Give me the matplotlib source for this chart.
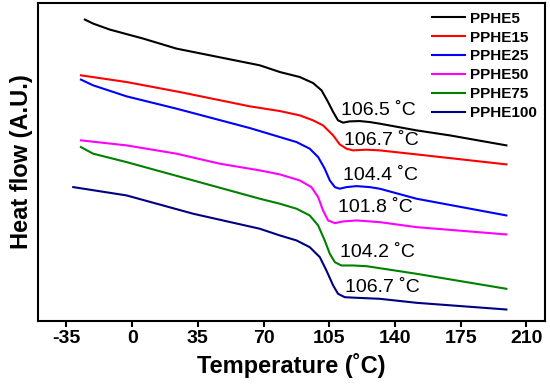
import matplotlib
matplotlib.use("Agg")
import matplotlib.pyplot as plt

plt.rcParams['font.family'] = ['Liberation Sans', 'DejaVu Sans']

series_names = ["PPHE5", "PPHE15", "PPHE25", "PPHE50", "PPHE75", "PPHE100"]
colors = ["#000000", "#ff0000", "#0000ff", "#ff00ff", "#008000", "#000080"]

t_pphe5 = [-25.2, -20.8, -11.9, 5.9, 23.6, 68.0, 78.7, 89.3, 96.4, 100.9, 104.4, 107.1, 109.7, 112.4, 115.9, 121.3, 126.6, 131.9, 151.5, 169.2, 199.4]
h_pphe5 = [300.7, 296.7, 290.7, 281.7, 271.7, 255, 248.3, 243.3, 237.3, 230, 218.3, 208.3, 200, 197.7, 199, 199.3, 198.3, 196.7, 190, 185, 175]

t_pphe15 = [-27.3, -3.0, 25.4, 62.7, 78.7, 89.3, 96.4, 101.7, 107.1, 110.6, 114.2, 117.7, 124.8, 131.9, 151.5, 199.4]
h_pphe15 = [245, 238.3, 228.3, 214, 209.3, 205, 200, 195, 185, 176, 171.7, 170, 170.7, 170, 166, 156]

t_pphe25 = [-27.3, -20.8, -3.0, 23.6, 62.7, 78.7, 87.6, 94.6, 99.1, 102.6, 105.3, 108.0, 110.6, 114.2, 119.5, 126.6, 131.9, 151.5, 199.4]
h_pphe25 = [240.7, 235, 224, 211.7, 192.3, 183.3, 178.3, 171.7, 163.3, 151.7, 140, 133.3, 131.7, 133.3, 134.3, 133.3, 131.7, 121.7, 105]

t_pphe50 = [-27.3, -3.0, 23.6, 46.7, 68.0, 78.7, 89.3, 95.5, 99.1, 101.7, 104.4, 108.0, 112.4, 119.5, 131.9, 151.5, 199.4]
h_pphe50 = [180, 175, 166.7, 156.7, 150, 146, 140, 133.3, 123.3, 110, 100, 97.3, 99, 100, 98.3, 93.3, 86]

t_pphe75 = [-27.3, -20.8, -3.0, 32.5, 68.0, 78.7, 87.6, 94.6, 99.1, 102.6, 105.3, 108.0, 111.5, 117.7, 124.8, 131.9, 151.5, 199.4]
h_pphe75 = [173.3, 166.7, 158.3, 140, 121.7, 116.7, 111.7, 105, 95, 80, 66.7, 58.3, 55, 55, 54.3, 52.3, 46.7, 31.7]

t_pphe100 = [-31.4, -3.0, 32.5, 68.0, 78.7, 87.6, 94.6, 100.0, 103.5, 107.1, 109.7, 113.3, 119.5, 131.9, 151.5, 199.4]
h_pphe100 = [133.3, 125, 106.7, 91.7, 85, 80, 73.3, 63.3, 50, 35, 26.7, 23.3, 22.7, 21.7, 17.7, 11]

tg_labels = ["106.5 \u02daC", "106.7 \u02daC", "104.4 \u02daC", "101.8 \u02daC", "104.2 \u02daC", "106.7 \u02daC"]
x_ticks = [-35, 0, 35, 70, 105, 140, 175, 210]

temps = [t_pphe5, t_pphe15, t_pphe25, t_pphe50, t_pphe75, t_pphe100]
flows = [h_pphe5, h_pphe15, h_pphe25, h_pphe50, h_pphe75, h_pphe100]

fig = plt.figure(figsize=(5.5, 3.85), dpi=100)
ax = fig.add_axes([0.0697, 0.1675, 0.9213, 0.824])

for t, h, c, n in zip(temps, flows, colors, series_names):
    ax.plot(t, h, color=c, lw=1.5, label=n, solid_joinstyle='round')

label_pos = [(111.5, 210), (112.9, 180), (112.4, 145), (109.7, 113.3), (110.6, 68.3), (113.3, 33.3)]
for (x, y), s in zip(label_pos, tg_labels):
    ax.text(x, y, s, fontsize=14, ha='left', va='center')

ax.set_xlim(-50, 220)
ax.set_ylim(0, 317)
ax.set_xticks(x_ticks)
ax.set_xticklabels([str(v) for v in x_ticks], fontsize=14, fontweight='bold')
ax.set_yticks([])
ax.tick_params(axis='x', direction='out', length=4, width=1.5, pad=3)
for sp in ax.spines.values():
    sp.set_linewidth(1.5)

ax.set_xlabel("Temperature (\u02daC)", fontsize=17, fontweight='bold', labelpad=4)
ax.set_ylabel("Heat flow (A.U.)", fontsize=17, fontweight='bold', labelpad=4)

leg = ax.legend(loc='upper right', frameon=False, handlelength=2.2,
                handletextpad=0.3, labelspacing=0.32, borderaxespad=0.15,
                prop={'weight': 'bold', 'size': 11})

fig.savefig("out.png", dpi=100)
